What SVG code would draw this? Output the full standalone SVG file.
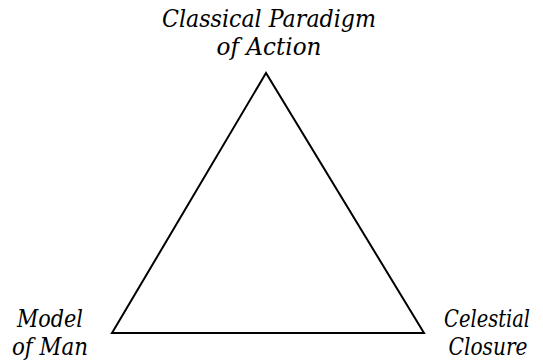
<svg xmlns="http://www.w3.org/2000/svg" width="543" height="363" viewBox="0 0 543 363">
<style>
.edge{stroke:#000;stroke-width:2;fill:none;stroke-linejoin:miter}
.lbl{font-family:'DejaVu Serif','Liberation Serif',serif;font-style:italic;font-size:24px;fill:#000;text-anchor:middle}
</style>
<rect width="543" height="363" fill="#fff"/>
<g id="connectors">
<polygon class="edge" points="266,73 112,333 424,333"/>
</g>
<g id="node-action"><text class="lbl" x="269" y="27" textLength="214" lengthAdjust="spacingAndGlyphs">Classical Paradigm</text><text class="lbl" x="269" y="55" textLength="105" lengthAdjust="spacingAndGlyphs">of Action</text></g>
<g id="node-man"><text class="lbl" x="50" y="327" textLength="66" lengthAdjust="spacingAndGlyphs">Model</text><text class="lbl" x="50" y="355" textLength="76" lengthAdjust="spacingAndGlyphs">of Man</text></g>
<g id="node-closure"><text class="lbl" x="487" y="327" textLength="86" lengthAdjust="spacingAndGlyphs">Celestial</text><text class="lbl" x="488" y="355" textLength="79" lengthAdjust="spacingAndGlyphs">Closure</text></g>
</svg>
